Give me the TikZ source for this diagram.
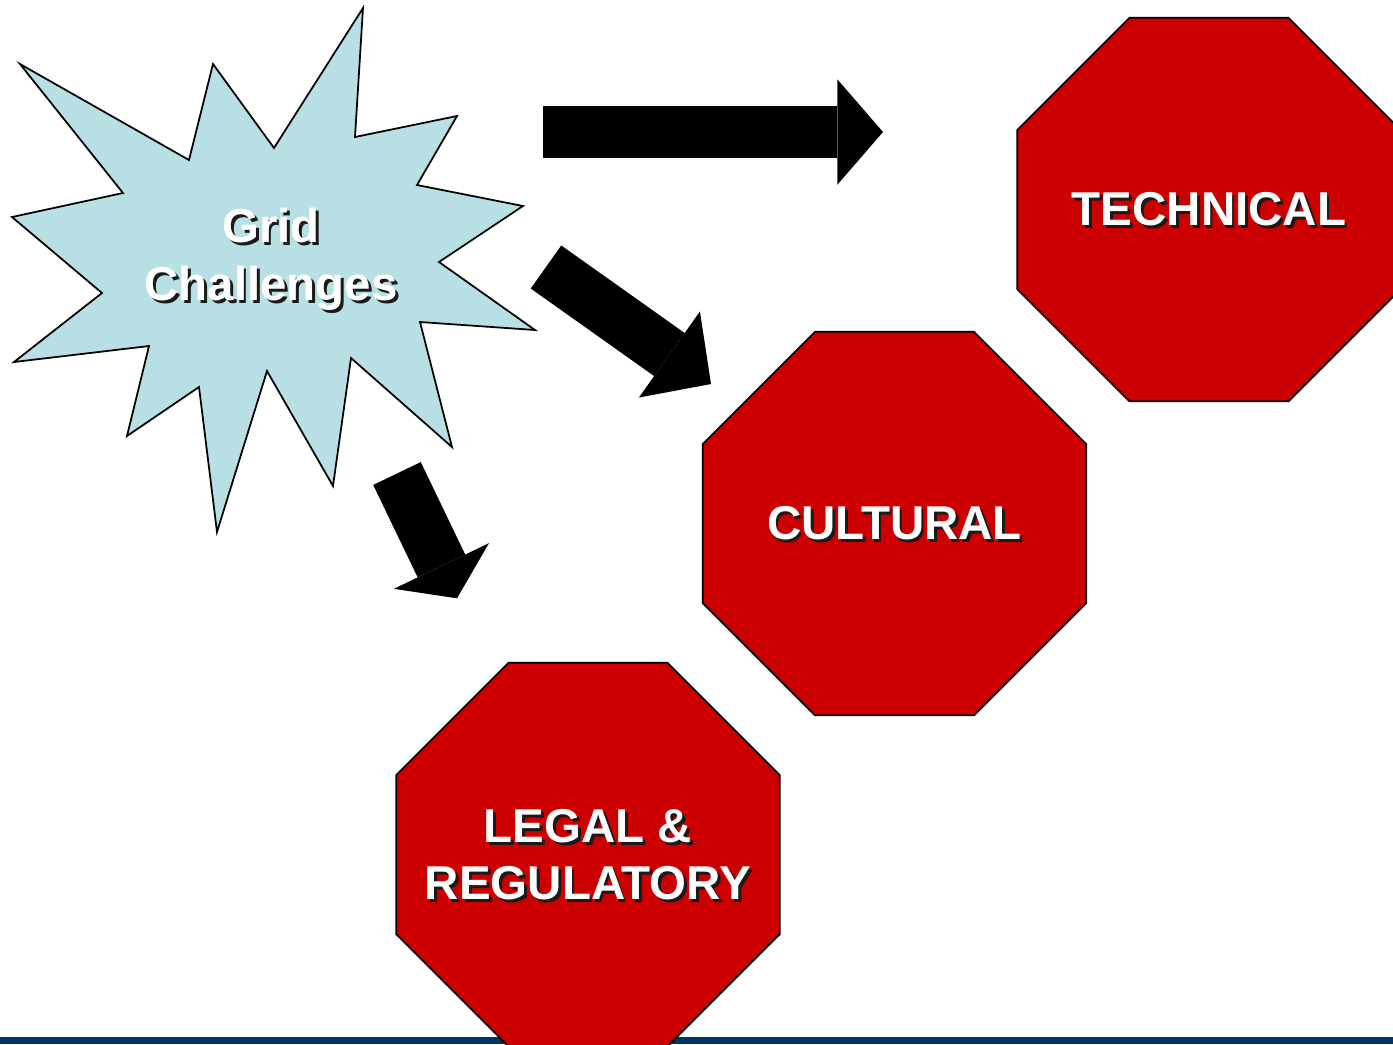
\documentclass[tikz,border=0pt]{standalone}
\usepackage{fontspec}
\setmainfont{Liberation Sans}
\usetikzlibrary{shapes.geometric,arrows.meta,positioning}
\definecolor{burstblue}{HTML}{B8E0E4}
\definecolor{stopred}{HTML}{CC0000}
\definecolor{barblue}{HTML}{003366}
\definecolor{shadowc}{HTML}{1A1A1A}
\newcommand{\shtxt}[1]{\rlap{\kern0.8pt\raisebox{-0.8pt}{\color{shadowc}#1}}#1}
\tikzset{
  stopsign/.style={regular polygon, regular polygon sides=8, minimum size=4.15cm,
    inner sep=0pt, fill=stopred, draw=black, line width=0.5pt},
  stoplabel/.style={text=white, align=center,
    font=\bfseries\fontsize{13.5pt}{16.2pt}\selectfont},
  blockarrow/.style={line width=15pt, -{Triangle[length=#1, width=30pt, line width=0pt]}},
}

\begin{document}
\begin{tikzpicture}[x=0.01cm, y=-0.01cm]
  \useasboundingbox (0,0) rectangle (1393,1044);
  \clip (0,0) rectangle (1393,1044);
  \fill[barblue] (0,1037) rectangle (1393,1044);
% burst
  \draw[fill=burstblue, line width=0.5pt, line join=miter]
    (363,8) -- (355,137) -- (457,116) -- (417,185) -- (523,206) -- (439,262)
    -- (535,330) -- (420,322) -- (452,447) -- (351,358) -- (333,486) -- (267,371)
    -- (217,532) -- (199,387) -- (127,436) -- (149,346) -- (14,362) -- (102,293)
    -- (12,217) -- (123,193) -- (20,64) -- (189,160) -- (213,64) -- (274,148) -- cycle;
  \node[stoplabel, font=\bfseries\fontsize{13.5pt}{16.5pt}\selectfont] (grid) at (271,261)
    {\shtxt{Grid}\\\shtxt{Challenges}};
% stop signs
  \node[stopsign] (tech) at (1209,209.5) {};
  \node[stopsign] (cult) at (894.5,523.5) {};
  \node[stopsign] (legal) at (588,854.5) {};
  \node[stoplabel] (techlbl) at (1209,211) {\shtxt{TECHNICAL}};
  \node[stoplabel] (cultlbl) at (894.5,525) {\shtxt{CULTURAL}};
  \node[stoplabel] (legallbl) at (588,856) {\shtxt{LEGAL \&}\\\shtxt{REGULATORY}};
% arrows
  \coordinate (a1s) at (543,132);
  \coordinate (a1e) at (883,132);
  \coordinate (a2s) at (546,267);
  \coordinate (a2e) at (711,384);
  \coordinate (a3s) at (397,473.5);
  \coordinate (a3e) at (457,598.3);
  \draw[blockarrow=13pt] (a1s) -- (a1e);
  \draw[blockarrow=14.5pt] (a2s) -- (a2e);
  \draw[blockarrow=10.2pt] (a3s) -- (a3e);
\end{tikzpicture}
\end{document}
